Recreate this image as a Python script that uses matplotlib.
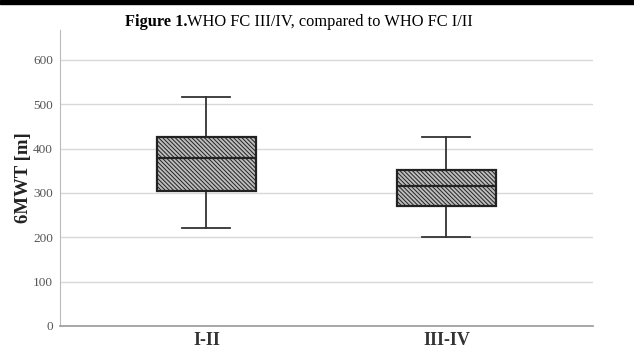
import matplotlib
matplotlib.use('Agg')
import matplotlib.pyplot as plt
from matplotlib.patches import Rectangle

# 数据
groups = ['I-II', 'III-IV']
whisker_low = [221, 200]
q1 = [304, 270]
median = [378, 315]
q3 = [426, 351]
whisker_high = [516, 426]
y_ticks = [0, 100, 200, 300, 400, 500, 600]

plt.rcParams['font.family'] = ['Liberation Serif', 'DejaVu Serif']
plt.rcParams['hatch.color'] = '#444444'
plt.rcParams['hatch.linewidth'] = 0.7

fig = plt.figure(figsize=(6.34, 3.5), dpi=100)
ax = fig.add_axes([0.0946, 0.0686, 0.8404, 0.845])

# 顶部黑条
fig.patches.append(Rectangle((0, 0.99), 1, 0.01, transform=fig.transFigure,
                             color='black', zorder=10))

stats = []
for i, g in enumerate(groups):
    stats.append({
        'label': g,
        'whislo': whisker_low[i],
        'q1': q1[i],
        'med': median[i],
        'q3': q3[i],
        'whishi': whisker_high[i],
        'fliers': [],
    })

bp = ax.bxp(stats, positions=[1, 2], widths=0.41, capwidths=0.2,
            patch_artist=True, showfliers=False,
            boxprops=dict(facecolor='#bdbdbd', edgecolor='#222222', linewidth=1.6,
                          hatch='\\\\\\\\\\\\\\\\'),
            medianprops=dict(color='#222222', linewidth=1.6),
            whiskerprops=dict(color='#333333', linewidth=1.3),
            capprops=dict(color='#333333', linewidth=1.3))
for b in bp['boxes']:
    b.set_zorder(3)
for m in bp['medians']:
    m.set_zorder(4)

ax.set_xlim(0.39, 2.61)
ax.set_ylim(0, 667)
ax.set_yticks(y_ticks)
ax.yaxis.grid(True, color='#d8d8d8', linewidth=1.0)
ax.set_axisbelow(True)

for s in ['top', 'right']:
    ax.spines[s].set_visible(False)
ax.spines['left'].set_color('#bbbbbb')
ax.spines['bottom'].set_color('#999999')
ax.spines['bottom'].set_linewidth(1.2)

ax.tick_params(axis='y', length=0, labelsize=9.5, labelcolor='#555555', pad=5)
ax.tick_params(axis='x', length=0, labelsize=13, pad=4)
for lbl in ax.get_xticklabels():
    lbl.set_fontweight('bold')
    lbl.set_color('#333333')

ax.set_ylabel('6MWT [m]', fontsize=13.5, fontweight='bold', color='#222222', labelpad=1)

# 标题
fig.text(0.197, 0.938, 'Figure 1.', fontsize=11.8, fontweight='bold', ha='left', va='center')
fig.text(0.295, 0.938, 'WHO FC III/IV, compared to WHO FC I/II', fontsize=11.8, ha='left', va='center')

plt.savefig('out.png', dpi=100)
plt.close()
